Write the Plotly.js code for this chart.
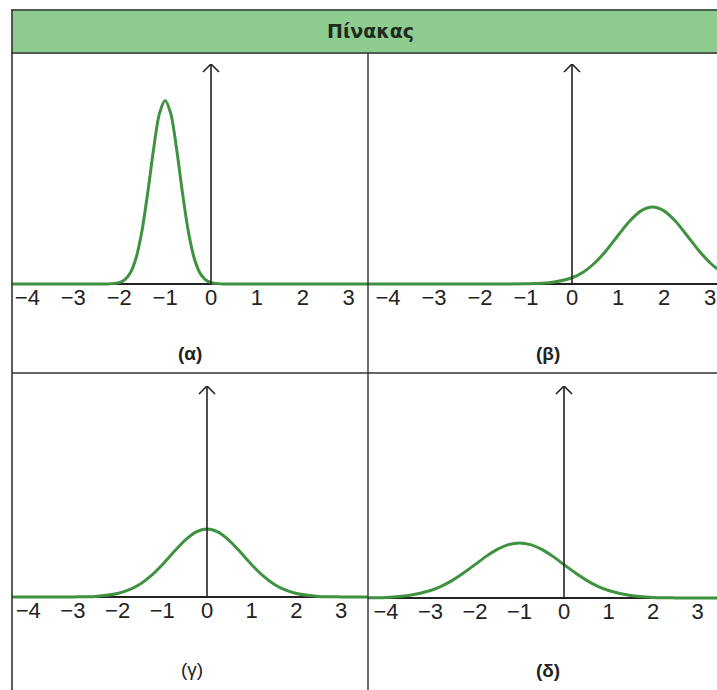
<!DOCTYPE html>
<html>
<head>
<meta charset="utf-8">
<script src="https://cdn.plot.ly/plotly-3.0.1.min.js"></script>
<style>
html,body{margin:0;padding:0;background:#fff;}
#chart{width:717px;height:690px;}
</style>
</head>
<body>
<div id="chart"></div>
<script>
// ---- data ----
const headerTitle = 'Πίνακας';
const panelLabels = ['(α)', '(β)', '(γ)', '(δ)'];
const xTickVals = [-4, -3, -2, -1, 0, 1, 2, 3];

const alphaX = [-4.5, -4, -3, -2.5, -2.25, -2, -1.875, -1.75, -1.625, -1.5, -1.375, -1.25, -1.125, -1, -0.875, -0.75, -0.625, -0.5, -0.375, -0.25, -0.125, 0, 0.25, 0.5, 1, 2, 3, 3.5];
const alphaY = [0, 0, 0, 0, 0.0006, 0.009, 0.029, 0.077, 0.178, 0.354, 0.604, 0.884, 1.112, 1.20, 1.112, 0.884, 0.604, 0.354, 0.178, 0.077, 0.029, 0.009, 0.0006, 0, 0, 0, 0, 0];

const betaX = [-4.5, -4, -3, -2, -1.5, -1, -0.5, 0, 0.25, 0.5, 0.75, 1, 1.25, 1.5, 1.75, 2, 2.25, 2.5, 2.75, 3, 3.25, 3.5];
const betaY = [0, 0, 0, 0, 0.0001, 0.001, 0.008, 0.041, 0.079, 0.139, 0.221, 0.317, 0.410, 0.478, 0.503, 0.478, 0.410, 0.317, 0.221, 0.139, 0.079, 0.041];

const gammaX = [-4.5, -4, -3.5, -3, -2.5, -2, -1.75, -1.5, -1.25, -1, -0.75, -0.5, -0.25, 0, 0.25, 0.5, 0.75, 1, 1.25, 1.5, 1.75, 2, 2.5, 3, 3.5, 4];
const gammaY = [0, 0, 0, 0.0006, 0.004, 0.023, 0.046, 0.083, 0.139, 0.211, 0.292, 0.369, 0.424, 0.444, 0.424, 0.369, 0.292, 0.211, 0.139, 0.083, 0.046, 0.023, 0.004, 0.0006, 0, 0];

const deltaX = [-4.5, -4, -3.5, -3, -2.75, -2.5, -2.25, -2, -1.75, -1.5, -1.25, -1, -0.75, -0.5, -0.25, 0, 0.25, 0.5, 0.75, 1, 1.5, 2, 2.5, 3, 3.5];
const deltaY = [0.0008, 0.004, 0.016, 0.049, 0.078, 0.117, 0.165, 0.218, 0.272, 0.318, 0.349, 0.36, 0.349, 0.318, 0.272, 0.218, 0.165, 0.117, 0.078, 0.049, 0.016, 0.004, 0.0008, 0, 0];

const seriesX = [alphaX, betaX, gammaX, deltaX];
const seriesY = [alphaY, betaY, gammaY, deltaY];

// ---- page geometry (pixels) ----
const W = 717, H = 690;
const px = v => v / W;
const py = v => 1 - v / H;
const yScale = 153;      // px per y unit
const yBottom = -0.02;   // a little room under the baseline for the thick curve
const geo = [
  {left: 12,  right: 368, zero: 211, unit: 45.9, base: 284, tip: 64,  lx: 190, ly: 353, bold: true},
  {left: 368, right: 717, zero: 572, unit: 46.0, base: 284, tip: 64,  lx: 548, ly: 353, bold: true},
  {left: 12,  right: 368, zero: 207, unit: 44.7, base: 597, tip: 386, lx: 192, ly: 669, bold: false},
  {left: 368, right: 717, zero: 564, unit: 44.5, base: 598, tip: 386, lx: 548, ly: 670, bold: true}
];

const curveColor = '#3f9340';
const inkColor = '#222222';
const borderColor = '#333333';

const data = [];
const layout = {
  width: W, height: H,
  margin: {l: 0, r: 0, t: 0, b: 0},
  paper_bgcolor: '#ffffff',
  plot_bgcolor: 'rgba(0,0,0,0)',
  showlegend: false,
  shapes: [],
  annotations: []
};

geo.forEach((g, i) => {
  const n = i + 1;
  const xa = n === 1 ? 'xaxis' : 'xaxis' + n;
  const ya = n === 1 ? 'yaxis' : 'yaxis' + n;
  const xr = n === 1 ? 'x' : 'x' + n;
  const yr = n === 1 ? 'y' : 'y' + n;
  const yTop = (g.base - g.tip) / yScale;
  const domBottomPx = g.base - yBottom * yScale;

  data.push({
    type: 'scatter', mode: 'lines',
    x: seriesX[i], y: seriesY[i],
    xaxis: xr, yaxis: yr,
    line: {color: curveColor, width: 3, shape: 'spline', smoothing: 0.8},
    hoverinfo: 'skip'
  });

  layout[xa] = {
    domain: [px(g.left), px(g.right)],
    range: [(g.left - g.zero) / g.unit, (g.right - g.zero) / g.unit],
    anchor: yr,
    showgrid: false, zeroline: false, showline: false,
    tickmode: 'array', tickvals: xTickVals,
    ticks: '', ticklabelstandoff: -5,
    tickfont: {family: 'Liberation Sans, Arial, sans-serif', size: 22, color: inkColor},
    fixedrange: true
  };
  layout[ya] = {
    domain: [py(domBottomPx), py(g.tip)],
    range: [yBottom, yTop],
    anchor: xr,
    showgrid: false, showticklabels: false, ticks: '', showline: false,
    zeroline: true, zerolinecolor: inkColor, zerolinewidth: 1.6,
    fixedrange: true
  };

  // vertical axis with open arrowhead
  layout.shapes.push({
    type: 'line', xref: xr, yref: yr, x0: 0, x1: 0, y0: 0, y1: yTop,
    line: {color: inkColor, width: 1.6}
  });
  layout.shapes.push({
    type: 'path', xref: xr, yref: yr,
    xsizemode: 'pixel', ysizemode: 'pixel', xanchor: 0, yanchor: yTop,
    path: 'M-8,-8 L0,0 L8,-8',
    line: {color: inkColor, width: 1.6}
  });

  layout.annotations.push({
    xref: 'paper', yref: 'paper', x: px(g.lx), y: py(g.ly),
    xanchor: 'center', yanchor: 'middle', showarrow: false,
    text: g.bold ? '<b>' + panelLabels[i] + '</b>' : panelLabels[i],
    font: {family: 'Liberation Sans, Arial, sans-serif', size: 19, color: inkColor}
  });
});

// header band
layout.shapes.push({
  type: 'rect', xref: 'paper', yref: 'paper', layer: 'below',
  x0: px(12), x1: 1, y0: py(53), y1: py(10),
  fillcolor: '#8ecb8e', line: {width: 0}
});
layout.shapes.push({type: 'line', xref: 'paper', yref: 'paper', x0: px(11), x1: 1, y0: py(10), y1: py(10), line: {color: '#4d5e4d', width: 2}});
layout.shapes.push({type: 'line', xref: 'paper', yref: 'paper', x0: px(11), x1: 1, y0: py(53), y1: py(53), line: {color: '#4d5e4d', width: 2}});
// table borders
layout.shapes.push({type: 'line', xref: 'paper', yref: 'paper', x0: px(12), x1: px(12), y0: py(10), y1: 0, line: {color: borderColor, width: 1.6}});
layout.shapes.push({type: 'line', xref: 'paper', yref: 'paper', x0: px(368), x1: px(368), y0: py(53), y1: 0, line: {color: borderColor, width: 1.4}});
layout.shapes.push({type: 'line', xref: 'paper', yref: 'paper', x0: px(12), x1: 1, y0: py(373), y1: py(373), line: {color: borderColor, width: 1.6}});

layout.annotations.push({
  xref: 'paper', yref: 'paper', x: px(370), y: py(31),
  xanchor: 'center', yanchor: 'middle', showarrow: false,
  text: '<b>' + headerTitle + '</b>',
  font: {family: 'DejaVu Sans, sans-serif', size: 19, color: '#1e2b1e'}
});

Plotly.newPlot('chart', data, layout, {displayModeBar: false, staticPlot: true});
</script>
</body>
</html>
